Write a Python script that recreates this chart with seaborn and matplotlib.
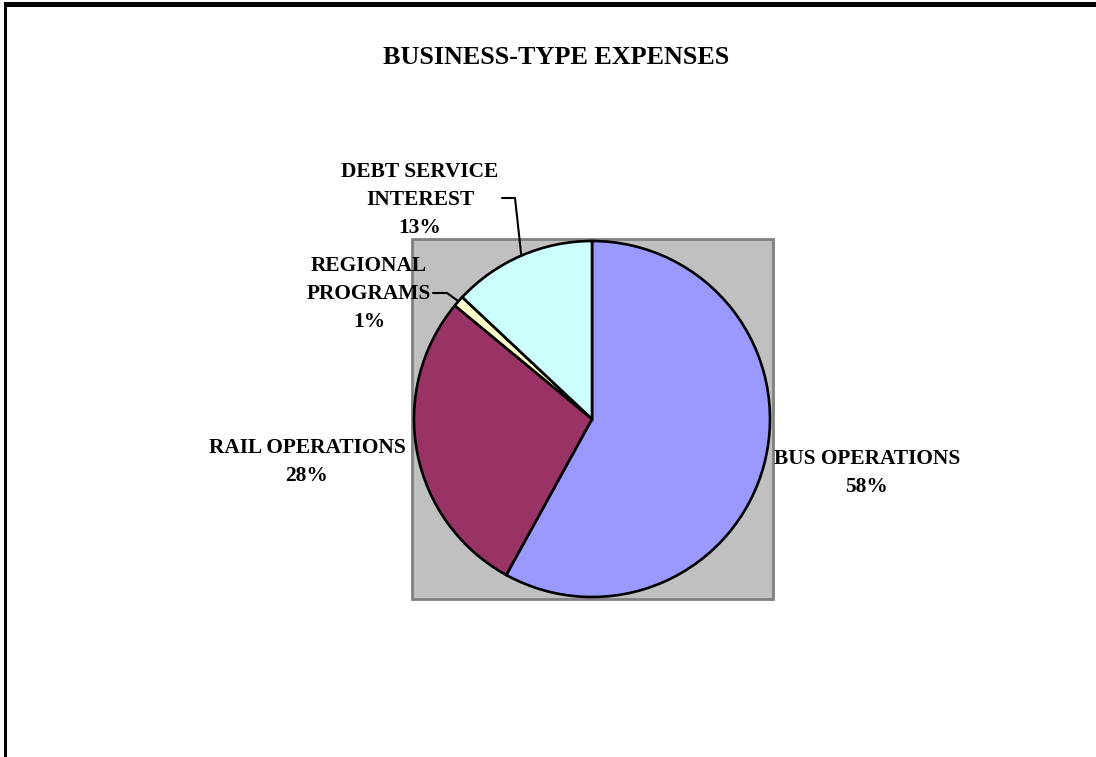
import numpy as np
import matplotlib
matplotlib.use("Agg")
import matplotlib.pyplot as plt
from matplotlib.patches import Rectangle
import seaborn as sns

# Expense shares (percent)
categories = ["BUS OPERATIONS", "RAIL OPERATIONS", "REGIONAL PROGRAMS", "DEBT SERVICE INTEREST"]
shares = [58, 28, 1, 13]
slice_colors = ["#9999FF", "#993366", "#FFFFCC", "#CCFFFF"]
label_lines = [["BUS OPERATIONS"], ["RAIL OPERATIONS"], ["REGIONAL", "PROGRAMS"], ["DEBT SERVICE", "INTEREST"]]
title = "BUSINESS-TYPE EXPENSES"

sns.set_theme(style="white")
plt.rcParams["font.family"] = ["Liberation Serif", "DejaVu Serif"]

W, H = 1096, 757
fig = plt.figure(figsize=(W / 100, H / 100), dpi=100)
ax = fig.add_axes([0, 0, 1, 1])
ax.set_xlim(0, W)
ax.set_ylim(0, H)
ax.set_aspect("equal")
ax.axis("off")

# Page frame: heavy rule on top, thinner rule on the left
ax.add_patch(Rectangle((4, H - 7), W - 4, 5, color="black", lw=0, zorder=5))
ax.add_patch(Rectangle((4, 0), 3, H - 2, color="black", lw=0, zorder=5))

# Plot area background
ax.add_patch(Rectangle((412, H - 599), 361, 360, facecolor="#C0C0C0",
                       edgecolor="#808080", lw=2, zorder=1))

cx, cy, r = 592, H - 419, 178
wedges, _ = ax.pie(shares, colors=slice_colors, startangle=90, counterclock=False,
                   center=(cx, cy), radius=r, frame=True,
                   wedgeprops=dict(edgecolor="black", linewidth=1.9))
for w in wedges:
    w.set_zorder(2)
ax.set_xlim(0, W)
ax.set_ylim(0, H)
ax.axis("off")

fs = 15.4
txt_kw = dict(ha="center", va="center", fontsize=fs, fontweight="bold", color="black", zorder=6)

ax.text(556, H - 58, title, ha="center", va="center", fontsize=18.8,
        fontweight="bold", color="black", zorder=6)

# Label anchor points (text centres, first line) in figure pixels
label_pos = [(867, 459), (307, 448), (369, 266), (420, 172)]
line_gap = 27.8
for lines, share, (lx, ly) in zip(label_lines, shares, label_pos):
    for i, s in enumerate(lines + [f"{share}%"]):
        ax.text(lx, H - (ly + i * line_gap), s, **txt_kw)


def edge_point(w):
    ang = np.deg2rad((w.theta1 + w.theta2) / 2)
    return cx + r * np.cos(ang), cy + r * np.sin(ang)


# Leader lines for the small slices
ex, ey = edge_point(wedges[3])
ax.plot([502, 515, ex], [H - 198, H - 198, ey], color="black", lw=1.5, zorder=6)
ex, ey = edge_point(wedges[2])
ax.plot([433, 447, ex], [H - 293, H - 293, ey], color="black", lw=1.5, zorder=6)

fig.savefig("out.png", dpi=100, facecolor="white")
